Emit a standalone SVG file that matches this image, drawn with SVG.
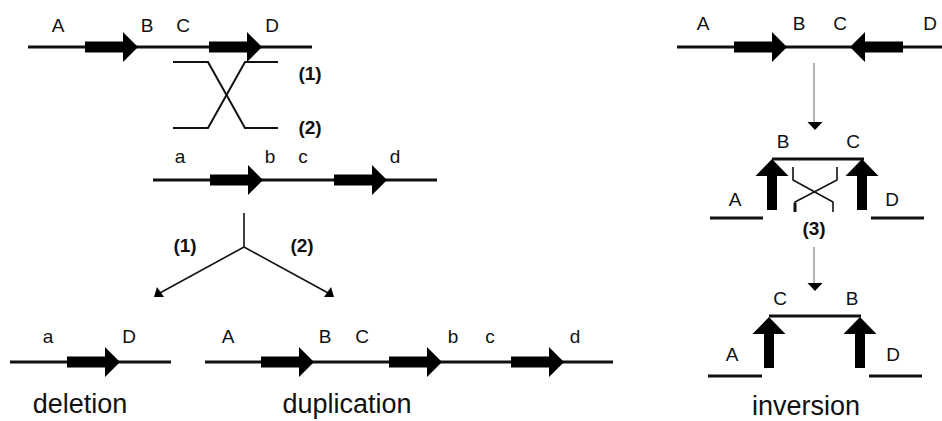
<svg xmlns="http://www.w3.org/2000/svg" xmlns:xlink="http://www.w3.org/1999/xlink" width="942" height="421" viewBox="0 0 942 421">
<style>
text{font-family:"Liberation Sans",Arial,sans-serif;fill:#111;text-anchor:middle}
.lb{font-size:19px}
.num{font-size:19px;font-weight:bold}
.cap{font-size:27px}
.dna{stroke:#111;stroke-width:3;fill:none}
.x{stroke:#111;stroke-width:2;fill:none}
.xs{stroke:#111;stroke-width:1.6;fill:none}
.gr{stroke:#999;stroke-width:1.5;fill:none}
.con{stroke:#111;stroke-width:1.6;fill:none}
.g{fill:#000}
</style>
<defs>
<path id="gene" d="M0,-5.5 H38 V-15 L53,0 L38,15 V5.5 H0 Z"/>
<path id="up" d="M-5,0 V-34 H-16.5 L0,-51 L16.5,-34 H5 V0 Z"/>
<path id="tri" d="M-7.5,0 H7.5 L0,8 Z"/>
</defs>
<rect width="942" height="421" fill="#fff"/>

<g id="parent">
<line class="dna" x1="28" y1="47" x2="312" y2="47"/>
<use class="g" xlink:href="#gene" x="85" y="47"/>
<use class="g" xlink:href="#gene" x="209" y="47"/>
<text class="lb" x="58" y="32">A</text>
<text class="lb" x="147" y="32">B</text>
<text class="lb" x="183" y="32">C</text>
<text class="lb" x="272" y="32">D</text>
</g>

<g id="crossover">
<polyline class="x" points="173,62 208,62 245,128 278,128"/>
<polyline class="x" points="173,128 208,128 245,62 278,62"/>
<text class="num" x="310" y="80">(1)</text>
<text class="num" x="310" y="134">(2)</text>
</g>

<g id="partner">
<line class="dna" x1="153" y1="180" x2="437" y2="180"/>
<use class="g" xlink:href="#gene" x="210" y="180"/>
<use class="g" xlink:href="#gene" x="334" y="180"/>
<text class="lb" x="180" y="163">a</text>
<text class="lb" x="270" y="163">b</text>
<text class="lb" x="303" y="163">c</text>
<text class="lb" x="395" y="163">d</text>
</g>

<g id="split-labels">
<text class="num" x="185" y="252">(1)</text>
<text class="num" x="302" y="252">(2)</text>
</g>

<g id="deletion">
<line class="dna" x1="10" y1="362" x2="171" y2="362"/>
<use class="g" xlink:href="#gene" x="67" y="362"/>
<text class="lb" x="48" y="343">a</text>
<text class="lb" x="129" y="343">D</text>
<text class="cap" x="80" y="413">deletion</text>
</g>

<g id="duplication">
<line class="dna" x1="205" y1="362" x2="613" y2="362"/>
<use class="g" xlink:href="#gene" x="261" y="362"/>
<use class="g" xlink:href="#gene" x="389" y="362"/>
<use class="g" xlink:href="#gene" x="511" y="362"/>
<text class="lb" x="228" y="343">A</text>
<text class="lb" x="325" y="343">B</text>
<text class="lb" x="362" y="343">C</text>
<text class="lb" x="453" y="343">b</text>
<text class="lb" x="490" y="343">c</text>
<text class="lb" x="575" y="343">d</text>
<text class="cap" x="347" y="413">duplication</text>
</g>

<g id="inv-parent">
<line class="dna" x1="677" y1="47" x2="942" y2="47"/>
<use class="g" xlink:href="#gene" x="734" y="47"/>
<use class="g" xlink:href="#gene" transform="translate(903,47) scale(-1,1)"/>
<text class="lb" x="703" y="30">A</text>
<text class="lb" x="799" y="30">B</text>
<text class="lb" x="840" y="30">C</text>
<text class="lb" x="930" y="30">D</text>
</g>

<g id="inv-loop">
<line class="dna" x1="772" y1="159" x2="864" y2="159"/>
<use class="g" xlink:href="#up" x="772" y="210"/>
<use class="g" xlink:href="#up" x="862" y="210"/>
<line class="dna" x1="710" y1="218" x2="763" y2="218"/>
<line class="dna" x1="871" y1="218" x2="924" y2="218"/>
<polyline class="xs" points="793,167 793,180 833,202 833,212"/>
<polyline class="xs" points="837,167 837,180 795,202 795,212"/>
<line stroke="#111" stroke-width="3" x1="795" y1="203" x2="795" y2="212"/>
<text class="lb" x="783" y="148">B</text>
<text class="lb" x="853" y="148">C</text>
<text class="lb" x="735" y="206">A</text>
<text class="lb" x="892" y="206">D</text>
<text class="num" x="814" y="235">(3)</text>
</g>

<g id="inv-result">
<line class="dna" x1="769" y1="316" x2="861" y2="316"/>
<use class="g" xlink:href="#up" x="769" y="368"/>
<use class="g" xlink:href="#up" x="860" y="368"/>
<line class="dna" x1="708" y1="376" x2="762" y2="376"/>
<line class="dna" x1="869" y1="376" x2="922" y2="376"/>
<text class="lb" x="780" y="305">C</text>
<text class="lb" x="852" y="305">B</text>
<text class="lb" x="732" y="361">A</text>
<text class="lb" x="893" y="361">D</text>
<text class="cap" x="806" y="415">inversion</text>
</g>

<g id="connectors">
<polyline class="con" points="244,213 244,247"/>
<line class="con" x1="244" y1="247" x2="158" y2="294"/>
<line class="con" x1="244" y1="247" x2="330" y2="294"/>
<path class="g" d="M154,297 L157,287 L164,297 Z"/>
<path class="g" d="M334,297 L331,287 L324,297 Z"/>
<line class="gr" x1="814" y1="63" x2="814" y2="122"/>
<use class="g" xlink:href="#tri" x="815" y="122"/>
<line class="gr" x1="814" y1="247" x2="814" y2="283"/>
<use class="g" xlink:href="#tri" x="815" y="283"/>
</g>
</svg>
